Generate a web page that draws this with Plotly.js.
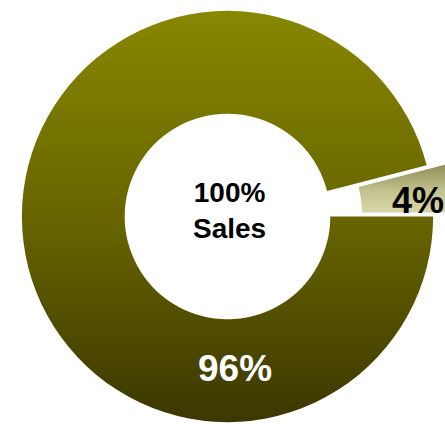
<!DOCTYPE html>
<html>
<head>
<meta charset="utf-8">
<script src="https://cdn.plot.ly/plotly-3.0.1.min.js"></script>
<style>
html,body{margin:0;padding:0;background:#fff;overflow:hidden;width:445px;height:424px;}
#chart{position:absolute;left:-10px;top:-21px;width:475px;height:475px;}
</style>
</head>
<body>
<div id="chart"></div>
<script>
var categories = ["Other", "Main"];
var values = [4, 96];
var sliceLabels = ["4%", "96%"];
var centerLabel = ["100%", "Sales"];

var W = 475, H = 475, OX = -10, OY = -21;
function px(x){ return (x - OX) / W; }
function py(y){ return 1 - (y - OY) / H; }

var trace = {
  type: "pie",
  labels: categories,
  values: values,
  hole: 0.5,
  sort: false,
  direction: "clockwise",
  rotation: 75.6,
  pull: [0.155, 0],
  textinfo: "none",
  hoverinfo: "label+percent",
  marker: {colors: ["#b8b67c", "#6a6700"], line: {width: 0}},
  domain: {x: [0, 1], y: [0, 1]},
  showlegend: false
};

var font = {family: "Liberation Sans, Arial, sans-serif"};
var layout = {
  width: W, height: H,
  margin: {l: 0, r: 0, t: 0, b: 0},
  paper_bgcolor: "#ffffff",
  showlegend: false,
  annotations: [
    {xref: "paper", yref: "paper", x: px(229), y: py(211), text: "<b>" + centerLabel.join("<br>") + "</b>",
     showarrow: false, font: {family: font.family, size: 28, color: "#000000"}, xanchor: "center", yanchor: "middle"},
    {xref: "paper", yref: "paper", x: px(235), y: py(368), text: "<b>" + sliceLabels[1] + "</b>",
     showarrow: false, font: {family: font.family, size: 37, color: "#ffffff"}, xanchor: "center", yanchor: "middle"},
    {xref: "paper", yref: "paper", x: px(418), y: py(200), text: "<b>" + sliceLabels[0] + "</b>",
     showarrow: false, font: {family: font.family, size: 36, color: "#000000"}, xanchor: "center", yanchor: "middle"}
  ]
};

Plotly.newPlot("chart", [trace], layout, {displayModeBar: false, staticPlot: true}).then(function(gd){
  var svg = gd.querySelector("svg.main-svg");
  var ns = "http://www.w3.org/2000/svg";
  var defs = svg.querySelector("defs") || svg.insertBefore(document.createElementNS(ns, "defs"), svg.firstChild);
  function grad(id, stops){
    var g = document.createElementNS(ns, "linearGradient");
    g.setAttribute("id", id);
    g.setAttribute("x1", "0"); g.setAttribute("y1", "0");
    g.setAttribute("x2", "0"); g.setAttribute("y2", "1");
    stops.forEach(function(s){
      var st = document.createElementNS(ns, "stop");
      st.setAttribute("offset", s[0]);
      st.setAttribute("stop-color", s[1]);
      g.appendChild(st);
    });
    defs.appendChild(g);
  }
  grad("gMain", [["0", "#878700"], ["0.5", "#686500"], ["1", "#3b3700"]]);
  grad("gOther", [["0", "#8a8850"], ["0.6", "#c4c490"], ["1", "#d6d6aa"]]);
  var paths = gd.querySelectorAll(".slice path.surface");
  if (paths[0]) paths[0].style.fill = "url(#gOther)";
  if (paths[1]) paths[1].style.fill = "url(#gMain)";
});
</script>
</body>
</html>
